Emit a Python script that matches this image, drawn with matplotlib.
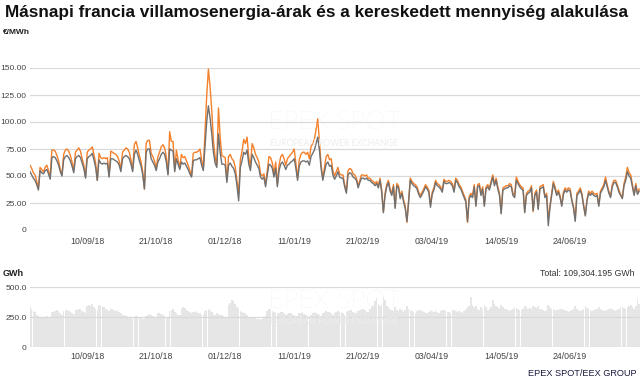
import numpy as np
import pandas as pd
import matplotlib.pyplot as plt
import matplotlib.dates as mdates

plt.rcParams['font.family'] = ['Liberation Sans', 'DejaVu Sans']

# -----------------------------
# Adatok (napi ertekek, 2018-08-06-tol, hetente egy sor: H..V)
# -----------------------------

start_date = '2018-08-06'

# csucsidoszaki ar, EUR/MWh (narancs)
peak_price = [
    62, 60, 57, 53, 51, 45, 39,
    58, 56, 54, 58, 60, 55, 49,
    74, 74, 73, 69, 64, 56, 51,
    70, 74, 75, 73, 69, 63, 55,
    72, 74, 76, 73, 66, 60, 49,
    72, 74, 75, 77, 70, 62, 46,
    71, 67, 66, 67, 66, 67, 50,
    73, 72, 71, 70, 68, 64, 56,
    72, 74, 76, 75, 72, 65, 56,
    79, 82, 76, 69, 63, 54, 38,
    80, 83, 83, 71, 68, 64, 57,
    68, 72, 77, 79, 76, 68, 52,
    91, 82, 82, 56, 74, 65, 58,
    70, 67, 68, 64, 60, 55, 50,
    71, 72, 72, 73, 75, 65, 57,
    90, 124, 149, 133, 111, 83, 68,
    60, 113, 86, 69, 68, 67, 46,
    68, 70, 66, 64, 58, 45, 33,
    65, 73, 84, 80, 86, 67, 59,
    80, 76, 70, 67, 63, 52, 50,
    52, 42, 55, 68, 67, 62, 52,
    63, 42, 60, 68, 70, 66, 60,
    66, 68, 70, 72, 75, 62, 48,
    65, 70, 72, 72, 70, 72, 66,
    77, 80, 84, 93, 103, 82, 60,
    48, 58, 68, 70, 65, 66, 55,
    50, 54, 58, 52, 51, 51, 42,
    36, 55, 57, 56, 52, 51, 48,
    41, 46, 51, 51, 50, 51, 48,
    48, 46, 45, 43, 45, 41, 48,
    37, 17, 34, 42, 46, 38, 34,
    42, 21, 43, 41, 31, 36, 28,
    22, 7, 28, 48, 45, 43, 42,
    40, 35, 32, 35, 38, 42, 40,
    37, 23, 35, 39, 46, 43, 42,
    40, 37, 47, 45, 45, 46, 45,
    43, 37, 48, 46, 42, 40, 36,
    32, 28, 7, 31, 34, 32, 42,
    23, 42, 43, 34, 40, 23, 40,
    42, 39, 45, 51, 43, 48, 40,
    34, 16, 39, 40, 41, 41, 43,
    42, 34, 32, 49, 45, 42, 40,
    39, 17, 34, 36, 37, 41, 17,
    34, 37, 20, 40, 41, 42, 31,
    34, 10, 22, 34, 45, 40, 34,
    37, 32, 23, 35, 39, 37, 39,
    38, 28, 22, 9, 34, 36, 39,
    34, 23, 14, 28, 36, 34, 36,
    34, 33, 34, 23, 36, 39, 42,
    49, 42, 36, 31, 42, 46, 46,
    42, 37, 33, 30, 43, 49, 58,
    53, 51, 42, 33, 43, 34, 38,
]

# zsinorar, EUR/MWh (szurke)
base_price = [
    56, 54, 51, 48, 46, 42, 37,
    55, 53, 52, 55, 56, 52, 47,
    67, 68, 67, 64, 60, 54, 50,
    65, 68, 69, 67, 64, 59, 53,
    66, 68, 69, 67, 62, 57, 48,
    66, 68, 69, 71, 65, 58, 46,
    65, 62, 61, 62, 61, 62, 49,
    66, 66, 65, 64, 63, 60, 54,
    66, 68, 69, 68, 66, 61, 54,
    70, 74, 70, 64, 59, 51, 38,
    72, 75, 75, 66, 63, 60, 55,
    63, 66, 70, 72, 70, 63, 51,
    75, 74, 73, 54, 66, 61, 56,
    63, 61, 62, 59, 56, 52, 49,
    64, 65, 65, 66, 67, 60, 55,
    78, 100, 115, 104, 89, 72, 62,
    58, 89, 72, 61, 61, 60, 44,
    60, 62, 59, 57, 52, 41, 27,
    58, 64, 72, 70, 74, 61, 55,
    70, 67, 63, 60, 57, 49, 47,
    49, 40, 51, 61, 60, 57, 49,
    57, 40, 55, 61, 63, 60, 56,
    60, 61, 63, 64, 66, 57, 46,
    59, 63, 64, 64, 63, 64, 60,
    68, 71, 74, 80, 86, 74, 57,
    46, 54, 61, 63, 59, 60, 51,
    47, 50, 54, 49, 48, 48, 40,
    34, 51, 53, 52, 49, 48, 46,
    39, 44, 48, 48, 47, 48, 46,
    46, 44, 43, 41, 43, 39, 46,
    35, 16, 32, 40, 44, 36, 32,
    40, 20, 41, 39, 29, 34, 26,
    20, 8, 26, 46, 43, 41, 40,
    38, 33, 30, 33, 36, 40, 38,
    35, 21, 33, 37, 44, 41, 40,
    38, 35, 45, 43, 43, 44, 43,
    41, 35, 46, 44, 40, 38, 34,
    30, 26, 8, 29, 32, 30, 40,
    22, 40, 41, 32, 38, 22, 38,
    40, 37, 43, 49, 41, 46, 38,
    32, 15, 37, 38, 39, 39, 41,
    40, 32, 30, 46, 43, 40, 38,
    37, 16, 32, 34, 35, 39, 18,
    32, 35, 19, 38, 39, 40, 30,
    32, 4, 21, 32, 43, 38, 32,
    35, 30, 22, 33, 37, 35, 37,
    36, 27, 20, 8, 32, 34, 37,
    32, 22, 13, 27, 34, 32, 34,
    32, 31, 32, 22, 34, 37, 40,
    46, 40, 34, 30, 40, 44, 44,
    40, 35, 32, 29, 41, 46, 54,
    50, 48, 40, 32, 41, 33, 36,
]

# kereskedett mennyiseg, GWh
volume = [
    335, 330, 320, 300, 290, 265, 255,
    250, 248, 252, 250, 255, 245, 240,
    290, 295, 300, 305, 300, 280, 270,
    300, 310, 305, 300, 295, 285, 275,
    310, 305, 315, 320, 300, 290, 280,
    340, 350, 345, 355, 335, 320, 305,
    350, 345, 340, 330, 320, 310, 300,
    320, 315, 310, 300, 305, 290, 285,
    270, 265, 260, 255, 250, 240, 235,
    250, 255, 260, 245, 240, 235, 230,
    260, 270, 275, 265, 255, 245, 240,
    280, 285, 275, 270, 260, 250, 245,
    300, 310, 315, 290, 285, 270, 265,
    320, 330, 325, 310, 300, 290, 285,
    290, 295, 300, 285, 280, 270, 265,
    300, 310, 320, 305, 290, 275, 270,
    280, 275, 270, 265, 255, 245, 240,
    350, 370, 390, 385, 360, 330, 320,
    300, 290, 285, 280, 270, 250, 245,
    240, 245, 240, 235, 230, 225, 230,
    245, 260, 300, 320, 315, 300, 290,
    280, 275, 285, 290, 295, 280, 270,
    275, 280, 285, 270, 265, 260, 255,
    280, 285, 290, 275, 270, 260, 255,
    270, 280, 290, 285, 275, 265, 260,
    280, 290, 300, 295, 290, 280, 270,
    280, 290, 300, 295, 290, 280, 270,
    290, 300, 310, 305, 295, 285, 280,
    300, 310, 320, 315, 305, 295, 290,
    320, 330, 340, 380, 410, 360, 340,
    350, 420, 390, 340, 330, 320, 310,
    300, 330, 310, 300, 320, 305, 290,
    310, 340, 320, 305, 300, 290, 285,
    300, 310, 305, 300, 295, 285, 280,
    290, 310, 300, 295, 305, 290, 285,
    300, 305, 310, 300, 295, 290, 285,
    305, 310, 300, 295, 300, 290, 285,
    300, 320, 330, 340, 420, 350, 330,
    340, 320, 310, 330, 320, 350, 330,
    310, 320, 330, 390, 360, 340, 330,
    320, 350, 330, 320, 315, 310, 300,
    310, 320, 330, 325, 320, 310, 305,
    320, 340, 330, 320, 325, 315, 340,
    330, 325, 340, 320, 315, 310, 300,
    310, 350, 330, 320, 315, 310, 305,
    305, 315, 320, 310, 305, 300, 295,
    300, 310, 320, 340, 320, 310, 300,
    305, 320, 340, 325, 315, 305, 300,
    310, 315, 320, 330, 320, 310, 300,
    305, 310, 320, 325, 315, 305, 300,
    310, 320, 330, 335, 325, 320, 330,
    340, 350, 330, 320, 340, 400, 360,
]

tick_dates = ['2018-09-10', '2018-10-21', '2018-12-01', '2019-01-11',
              '2019-02-21', '2019-04-03', '2019-05-14', '2019-06-24']
price_ticks = [0, 25, 50, 75, 100, 125, 150]
volume_ticks = [0, 250, 500]

dates = pd.date_range(start_date, periods=len(peak_price), freq='D')

# -----------------------------
# Abra
# -----------------------------

W, H = 640, 383
fig = plt.figure(figsize=(W / 100, H / 100), dpi=100)


def fx(px):
    return px / W


def fy(py):
    return 1 - py / H


ax1 = fig.add_axes([fx(30), fy(230), fx(610), 162 / H])
ax2 = fig.add_axes([fx(30), fy(347), fx(610), 60 / H])

xmin = pd.Timestamp('2018-08-07')
xmax = pd.Timestamp('2019-08-04 12:00')
grid_col = '#d9d9d9'
tick_col = '#444444'

ax1.plot(dates, peak_price, color='#f5802a', lw=1.0, zorder=3)
ax1.plot(dates, base_price, color='#707070', lw=1.0, zorder=4)
ax1.set_ylim(0, 150)
ax1.set_yticks(price_ticks)
ax1.set_yticklabels(['0' if v == 0 else f'{v:.2f}' for v in price_ticks])

ax2.bar(dates, volume, width=0.95, color='#e6e6e6', lw=0, zorder=1)
ax2.set_ylim(0, 500)
ax2.set_yticks(volume_ticks)
ax2.set_yticklabels(['0' if v == 0 else f'{v:.1f}' for v in volume_ticks])
ax2.set_axisbelow(False)

for ax in (ax1, ax2):
    ax.set_xlim(xmin, xmax)
    ax.set_xticks(pd.to_datetime(tick_dates))
    ax.xaxis.set_major_formatter(mdates.DateFormatter('%d/%m/%y'))
    ax.grid(axis='y', color=grid_col, lw=0.9)
    ax.grid(axis='x', visible=False)
    for s in ax.spines.values():
        s.set_visible(False)
    ax.tick_params(axis='y', length=0, pad=2.5, labelsize=6, labelcolor=tick_col)
    ax.tick_params(axis='x', length=0, labelsize=6.3, labelcolor=tick_col)

ax1.tick_params(axis='x', pad=5)
ax2.tick_params(axis='x', pad=3.5)

# vizjelek
for ytop, ysub in ((122, 143), (301, 322)):
    fig.text(fx(268), fy(ytop), 'EPEX SPOT', fontsize=19, color='#ededed',
             family=['Lato', 'DejaVu Sans'], weight='light', va='center', zorder=5)
    fig.text(fx(270), fy(ysub), 'EUROPEAN POWER EXCHANGE', fontsize=6.2,
             color='#ededed', family=['Lato', 'DejaVu Sans'], va='center', zorder=5)

# feliratok
fig.text(fx(5), fy(13), 'Másnapi francia villamosenergia-árak és a kereskedett mennyiség alakulása',
         fontsize=12.4, weight='bold', va='center', color='#111111')
fig.text(fx(3), fy(33), '€/MWh', fontsize=6, weight='bold', va='center', color='#222222')
fig.text(fx(3), fy(273), 'GWh', fontsize=6.5, weight='bold', va='center', color='#222222')
fig.text(fx(635), fy(273), 'Total: 109,304.195 GWh', fontsize=6.3, ha='right',
         va='center', color='#333333')
fig.text(fx(528), fy(374), 'EPEX SPOT/EEX GROUP', fontsize=6.6, va='center',
         color='#1a1a40')

fig.savefig('out.png', dpi=100)
